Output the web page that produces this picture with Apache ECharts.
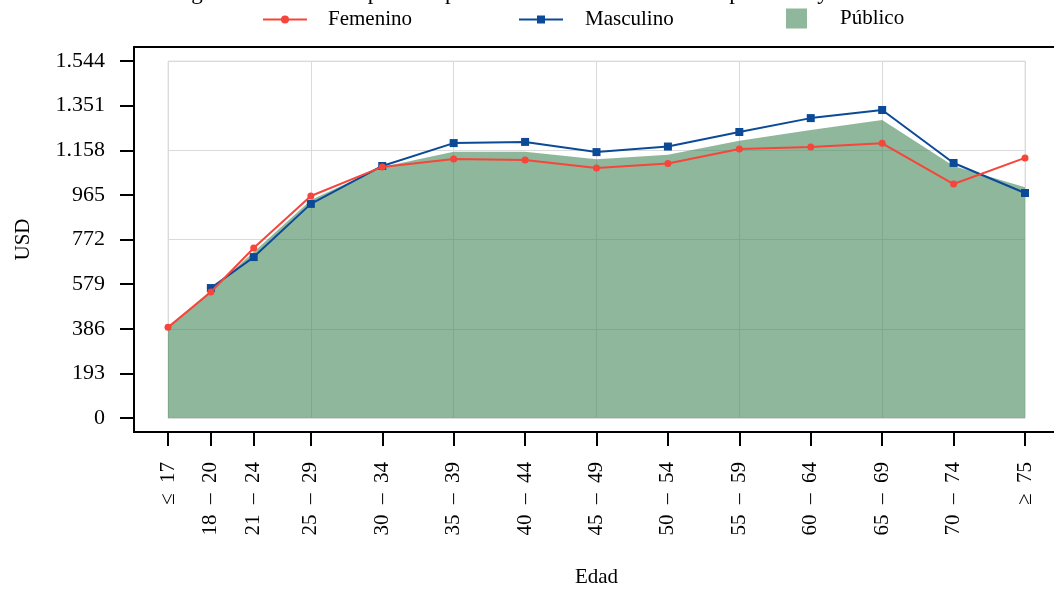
<!DOCTYPE html>
<html>
<head>
<meta charset="utf-8">
<script src="https://cdn.jsdelivr.net/npm/echarts@6/dist/echarts.min.js"></script>
<style>
html,body{margin:0;padding:0;background:#fff;}
#chart{width:1054px;height:590px;}
</style>
</head>
<body>
<div id="chart"></div>
<script>
// ---- data ----
var categories = ['≤\u200217','18\u2002–\u200220','21\u2002–\u200224','25\u2002–\u200229','30\u2002–\u200234','35\u2002–\u200239','40\u2002–\u200244','45\u2002–\u200249','50\u2002–\u200254','55\u2002–\u200259','60\u2002–\u200264','65\u2002–\u200269','70\u2002–\u200274','≥\u200275'];
var xPositions = [0, 0.6, 1.2, 2, 3, 4, 5, 6, 7, 8, 9, 10, 11, 12];
var femenino  = [392, 545, 735, 960, 1086, 1120, 1116, 1081, 1101, 1163, 1172, 1188, 1012, 1125];
var masculino = [null, 562, 696, 926, 1090, 1189, 1194, 1150, 1174, 1237, 1297, 1332, 1103, 973];
var publico   = [389, 553, 718, 943, 1086, 1151, 1151, 1119, 1138, 1199, 1246, 1289, 1090, 998];
var titleText = 'Figura 12: Monto de pensión promedio en el Sector Público por Sexo y Edad';

function pairs(vals){ return xPositions.map(function(x,i){ return [x, vals[i]]; }); }
function labelFor(v){
  for (var i=0;i<xPositions.length;i++){ if (Math.abs(xPositions[i]-v)<1e-6) return categories[i]; }
  return '';
}
function fmtThousands(v){ return String(Math.round(v)).replace(/\B(?=(\d{3})+(?!\d))/g, '.'); }

var FONT = 'Liberation Serif';
var chart = echarts.init(document.getElementById('chart'), null, {renderer:'canvas'});
chart.setOption({
  backgroundColor: '#ffffff',
  animation: false,
  textStyle: {fontFamily: FONT, color: '#000'},
  title: {
    text: titleText, left: 'center', top: -24,
    textStyle: {fontFamily: FONT, fontSize: 23, fontWeight: 'normal', color: '#000'}
  },
  legend: [
    {data: ['Femenino'], left: 262, top: 9, padding: 0, itemWidth: 44, itemHeight: 10,
     textStyle: {fontFamily: FONT, fontSize: 21, color: '#000', padding: [0,0,0,16]}},
    {data: ['Masculino'], left: 518, top: 9, padding: 0, itemWidth: 44, itemHeight: 10,
     textStyle: {fontFamily: FONT, fontSize: 21, color: '#000', padding: [0,0,0,17]}},
    {data: [{name: 'Público', icon: 'rect'}], left: 786, top: 8, padding: 0, itemWidth: 21, itemHeight: 20,
     textStyle: {fontFamily: FONT, fontSize: 21, color: '#000', padding: [0,0,0,28]}}
  ],
  grid: {left: 168, right: 29, top: 61, bottom: 172, show: true, borderColor: '#e2e2e2', borderWidth: 1,
         containLabel: false, outerBoundsMode: 'none'},
  graphic: [{
    type: 'rect', silent: true, z: 100,
    shape: {x: 134, y: 47, width: 960, height: 385},
    style: {fill: 'none', stroke: '#000', lineWidth: 2}
  }],
  xAxis: [
    {type: 'value', min: 0, max: 12, interval: 2,
     axisLine: {show: false, onZero: false}, axisTick: {show: false}, axisLabel: {show: false},
     splitLine: {show: true, lineStyle: {color: '#dadada', width: 1}}},
    {type: 'value', min: 0, max: 12, position: 'bottom', offset: 14,
     name: 'Edad', nameLocation: 'middle', nameGap: 135,
     nameTextStyle: {fontFamily: FONT, fontSize: 21, color: '#000'},
     axisLine: {show: false, onZero: false},
     axisTick: {show: true, customValues: xPositions, length: 14, lineStyle: {color: '#000', width: 2}},
     axisLabel: {show: true, customValues: xPositions, rotate: 90, margin: 30,
                 fontFamily: FONT, fontSize: 21, color: '#000',
                 formatter: function(v){ return labelFor(v); }},
     splitLine: {show: false}}
  ],
  yAxis: [
    {type: 'value', min: 0, max: 1544, interval: 386, position: 'left',
     axisLine: {show: false, onZero: false}, axisTick: {show: false}, axisLabel: {show: false},
     splitLine: {show: true, lineStyle: {color: '#dadada', width: 1}}},
    {type: 'value', min: 0, max: 1544, interval: 193, position: 'left', offset: 34,
     name: 'USD', nameLocation: 'middle', nameGap: 100, nameRotate: 90,
     nameTextStyle: {fontFamily: FONT, fontSize: 21, color: '#000'},
     axisLine: {show: false, onZero: false},
     axisTick: {show: true, length: 14, lineStyle: {color: '#000', width: 2}},
     axisLabel: {show: true, margin: 29, fontFamily: FONT, fontSize: 22, color: '#000',
                 formatter: function(v){ return fmtThousands(v); }},
     splitLine: {show: false}}
  ],
  series: [
    {name: 'Público', type: 'line', xAxisIndex: 0, yAxisIndex: 0, data: pairs(publico),
     symbol: 'none', lineStyle: {width: 0}, itemStyle: {color: '#8fb79b'},
     areaStyle: {color: '#448758', opacity: 0.6}, z: 1},
    {name: 'Masculino', type: 'line', xAxisIndex: 0, yAxisIndex: 0, data: pairs(masculino),
     symbol: 'rect', symbolSize: 8, connectNulls: false,
     lineStyle: {color: '#0b4a97', width: 2}, itemStyle: {color: '#0b4a97'}, z: 3},
    {name: 'Femenino', type: 'line', xAxisIndex: 0, yAxisIndex: 0, data: pairs(femenino),
     symbol: 'circle', symbolSize: 7,
     lineStyle: {color: '#f6453b', width: 2}, itemStyle: {color: '#f6453b'}, z: 4}
  ]
});
</script>
</body>
</html>
